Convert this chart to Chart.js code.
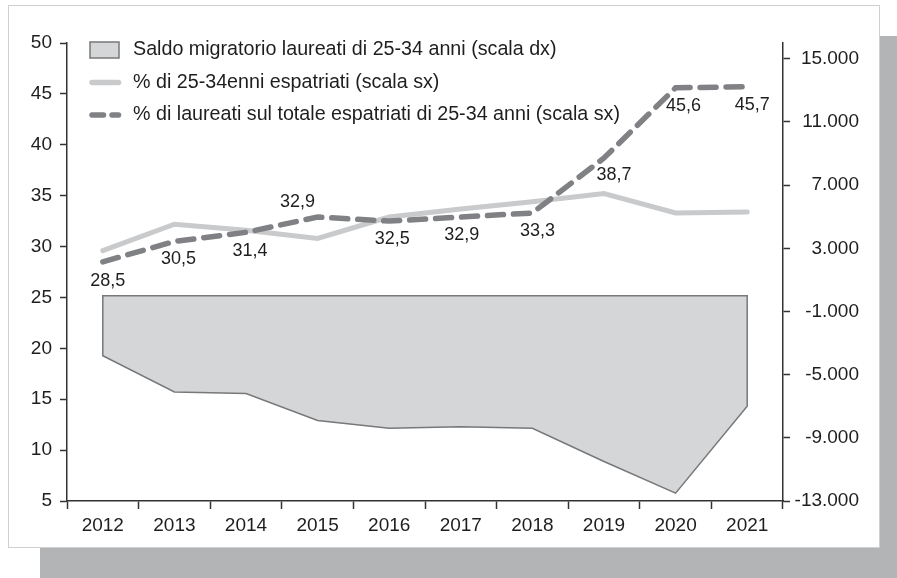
<!DOCTYPE html>
<html>
<head>
<meta charset="utf-8">
<script src="https://cdn.jsdelivr.net/npm/chart.js@4.4.1/dist/chart.umd.min.js"></script>
<style>
  body { margin: 0; background: #fff; width: 897px; height: 578px; position: relative; overflow: hidden; }
  #shadow { position: absolute; left: 40px; top: 36px; width: 857px; height: 542px; background: #b3b4b6; }
  #frame { position: absolute; left: 8px; top: 5px; width: 872px; height: 543px; background: #fff; border: 1px solid #cfcfcf; box-sizing: border-box; }
  #myChart { position: absolute; left: 8px; top: 5px; }
</style>
</head>
<body>
<div id="shadow"></div>
<div id="frame"></div>
<canvas id="myChart" width="872" height="543"></canvas>
<script>
// Values.
const years = ['2012', '2013', '2014', '2015', '2016', '2017', '2018', '2019', '2020', '2021'];
const saldoLaureati = [-3800, -6100, -6200, -7900, -8400, -8300, -8400, -10500, -12500, -7000];
const quotaEspatriati = [29.6, 32.2, 31.6, 30.8, 32.9, 33.7, 34.4, 35.2, 33.3, 33.4];
const quotaLaureati = [28.5, 30.5, 31.4, 32.9, 32.5, 32.9, 33.3, 38.7, 45.6, 45.7];
const leftTicks = [5, 10, 15, 20, 25, 30, 35, 40, 45, 50];
const rightTicks = [-13000, -9000, -5000, -1000, 3000, 7000, 11000, 15000];

const FONT = '"Liberation Sans", Arial, sans-serif';
const TEXT = '#1e1e1e';
const AXIS = '#333';

function thousands(v) {
  const s = Math.abs(v).toString().replace(/\B(?=(\d{3})+(?!\d))/g, '.');
  return (v < 0 ? '-' : '') + s;
}

// Outline round the "saldo" area (top edge at zero plus both sides).
const areaOutline = {
  id: 'areaOutline',
  afterDatasetDraw(chart, args) {
    if (args.index !== 0) return;
    const pts = args.meta.data;
    const zero = chart.scales.y1.getPixelForValue(0);
    const ctx = chart.ctx;
    ctx.save();
    ctx.beginPath();
    ctx.moveTo(pts[0].x, zero);
    pts.forEach(p => ctx.lineTo(p.x, p.y));
    ctx.lineTo(pts[pts.length - 1].x, zero);
    ctx.closePath();
    ctx.lineWidth = 1.5;
    ctx.strokeStyle = '#77787a';
    ctx.stroke();
    ctx.restore();
  }
};

// Value labels on the dashed series.
const labelOffsets = [[5, 19], [4, 18], [4, 19], [-20, -15], [3, 18], [1, 18], [5, 18], [10, 17], [8, 18], [5, 18]];
const valueLabels = {
  id: 'valueLabels',
  afterDatasetsDraw(chart) {
    const meta = chart.getDatasetMeta(2);
    const ctx = chart.ctx;
    ctx.save();
    ctx.font = '18px ' + FONT;
    ctx.fillStyle = TEXT;
    ctx.textAlign = 'center';
    ctx.textBaseline = 'middle';
    meta.data.forEach((p, i) => {
      const [dx, dy] = labelOffsets[i];
      ctx.fillText(quotaLaureati[i].toString().replace('.', ','), p.x + dx, p.y + dy);
    });
    ctx.restore();
  }
};

// Legend drawn inside the plot area, top left.
const innerLegend = {
  id: 'innerLegend',
  afterDatasetsDraw(chart) {
    const {left, top} = chart.chartArea;
    const ctx = chart.ctx;
    ctx.save();
    ctx.font = '19.7px ' + FONT;
    ctx.textBaseline = 'middle';
    chart.data.datasets.forEach((ds, i) => {
      const y = top + 7 + i * 32.5;
      const x = left + 23;
      if (i === 0) {
        ctx.fillStyle = ds.backgroundColor;
        ctx.fillRect(x, y - 8, 29, 16);
        ctx.lineWidth = 1.5;
        ctx.strokeStyle = '#77787a';
        ctx.strokeRect(x, y - 8, 29, 16);
      } else {
        ctx.beginPath();
        ctx.setLineDash(i === 2 ? [11.5, 8.5] : []);
        ctx.lineCap = 'round';
        ctx.lineWidth = 5.5;
        ctx.strokeStyle = ds.borderColor;
        ctx.moveTo(x + 2, y);
        ctx.lineTo(x + 28.5, y);
        ctx.stroke();
        ctx.setLineDash([]);
      }
      ctx.fillStyle = TEXT;
      ctx.fillText(ds.label, left + 66, y);
    });
    ctx.restore();
  }
};

const ctx = document.getElementById('myChart');

new Chart(ctx, {
  type: 'line',
  data: {
    labels: years,
    datasets: [{
      label: 'Saldo migratorio laureati di 25-34 anni (scala dx)',
      data: saldoLaureati,
      yAxisID: 'y1',
      fill: 'origin',
      backgroundColor: '#d5d6d8',
      borderWidth: 0,
      pointRadius: 0,
      order: 2
    }, {
      label: '% di 25-34enni espatriati (scala sx)',
      data: quotaEspatriati,
      yAxisID: 'y',
      borderColor: '#c9cacc',
      borderWidth: 5,
      borderCapStyle: 'round',
      pointRadius: 0,
      fill: false,
      order: 1
    }, {
      label: '% di laureati sul totale espatriati di 25-34 anni (scala sx)',
      data: quotaLaureati,
      yAxisID: 'y',
      borderColor: '#808184',
      borderWidth: 5.5,
      borderDash: [16, 10],
      borderCapStyle: 'round',
      pointRadius: 0,
      fill: false,
      order: 0
    }]
  },
  options: {
    responsive: false,
    animation: false,
    layout: { padding: { top: 38, left: 0, right: 21, bottom: 0 } },
    plugins: { legend: { display: false }, tooltip: { enabled: false } },
    scales: {
      x: {
        offset: true,
        grid: { offset: true, drawOnChartArea: false, tickLength: 8, color: AXIS, tickWidth: 1.5 },
        border: { color: AXIS, width: 1.5 },
        ticks: { font: { family: FONT, size: 19 }, color: TEXT, padding: 5, maxRotation: 0 },
        afterFit: s => { s.height = 47; }
      },
      y: {
        position: 'left',
        min: 5,
        max: 50,
        afterBuildTicks: s => { s.ticks = leftTicks.map(v => ({ value: v })); },
        grid: { drawOnChartArea: false, tickLength: 7, color: AXIS, tickWidth: 1.5 },
        border: { color: AXIS, width: 1.5 },
        ticks: { font: { family: FONT, size: 19 }, color: TEXT, padding: 8 },
        afterFit: s => { s.width = 59; }
      },
      y1: {
        position: 'right',
        min: -13000,
        max: 16000,
        afterBuildTicks: s => { s.ticks = rightTicks.map(v => ({ value: v })); },
        grid: { drawOnChartArea: false, tickLength: 7, color: AXIS, tickWidth: 1.5 },
        border: { color: AXIS, width: 1.5 },
        ticks: { font: { family: FONT, size: 19 }, color: TEXT, padding: 3, crossAlign: 'far', callback: v => thousands(v) },
        afterFit: s => { s.width = 76; }
      }
    }
  },
  plugins: [areaOutline, valueLabels, innerLegend]
});
</script>
</body>
</html>
